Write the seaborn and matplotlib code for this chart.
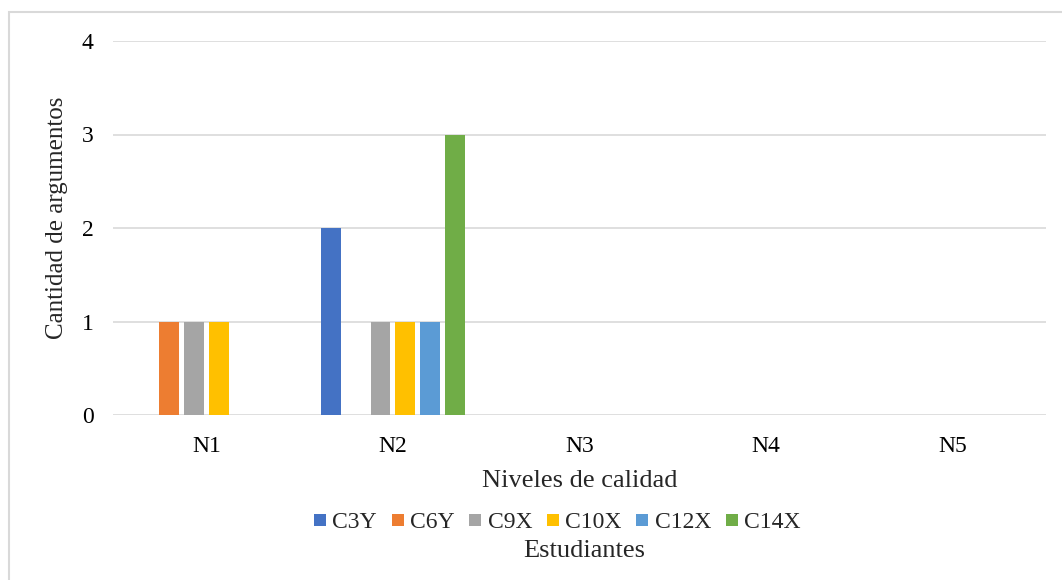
import numpy as np
import pandas as pd
import matplotlib
matplotlib.use("Agg")
import matplotlib.pyplot as plt
import seaborn as sns
from matplotlib.patches import Rectangle
from matplotlib.lines import Line2D

#----------------------------DATA---------------------------------
niveles = ["N1", "N2", "N3", "N4", "N5"]
estudiantes = ["C3Y", "C6Y", "C9X", "C10X", "C12X", "C14X"]
c3y = [0, 2, 0, 0, 0]
c6y = [1, 0, 0, 0, 0]
c9x = [1, 1, 0, 0, 0]
c10x = [1, 1, 0, 0, 0]
c12x = [0, 1, 0, 0, 0]
c14x = [0, 3, 0, 0, 0]
colores = ["#4472C4", "#ED7D31", "#A5A5A5", "#FFC000", "#5B9BD5", "#70AD47"]

series = [c3y, c6y, c9x, c10x, c12x, c14x]
df = pd.DataFrame({
    "Nivel": niveles * len(estudiantes),
    "Estudiante": np.repeat(estudiantes, len(niveles)),
    "Cantidad": np.concatenate(series),
})

#----------------------------PLOT---------------------------------
sns.set_style("white")
plt.rcParams["font.family"] = ["Liberation Serif", "DejaVu Serif"]

fig = plt.figure(figsize=(10.62, 5.8), dpi=100)
ax = fig.add_axes([113 / 1062, 1 - 415 / 580, (1046 - 113) / 1062, (415 - 41) / 580])

sns.barplot(data=df, x="Nivel", y="Cantidad", hue="Estudiante", legend=False,
            palette=colores, saturation=1, width=0.8, gap=0.2, linewidth=0, ax=ax)

ax.set_ylim(0, 4)
ax.set_yticks([0, 1, 2, 3, 4])
ax.yaxis.grid(True, color="#D9D9D9", linewidth=1.2)
ax.set_axisbelow(True)
for s in ax.spines.values():
    s.set_visible(False)
ax.tick_params(axis="both", length=0, labelsize=17, colors="black")
ax.tick_params(axis="y", pad=14)
ax.tick_params(axis="x", pad=15)
ax.set_xlabel("")
ax.set_ylabel("")

fig.text(580 / 1062, 1 - 481 / 580, "Niveles de calidad", ha="center", va="center", fontsize=19)
fig.text(57 / 1062, 1 - 218 / 580, "Cantidad de argumentos", ha="center", va="center",
         rotation=90, fontsize=18)

# legend: small squares like the Excel one
handles = [Line2D([], [], linestyle="none", marker="s", markersize=8.5,
                  markerfacecolor=c, markeredgewidth=0) for c in colores]
fig.legend(handles, estudiantes, loc="center", bbox_to_anchor=(557 / 1062, 1 - 522 / 580),
           ncol=6, frameon=False, fontsize=17, handlelength=0.55,
           handletextpad=0.25, columnspacing=0.6, borderpad=0)
fig.text(584 / 1062, 1 - 551 / 580, "Estudiantes", ha="center", va="center", fontsize=19)

# chart border (right and bottom edges fall outside the picture)
fig.patches.append(Rectangle((8.5 / 1062, -0.1), 1.2, 1 - 11.5 / 580 + 0.1,
                             transform=fig.transFigure, fill=False,
                             edgecolor="#D9D9D9", linewidth=1.5))

fig.savefig("out.png", dpi=100)
